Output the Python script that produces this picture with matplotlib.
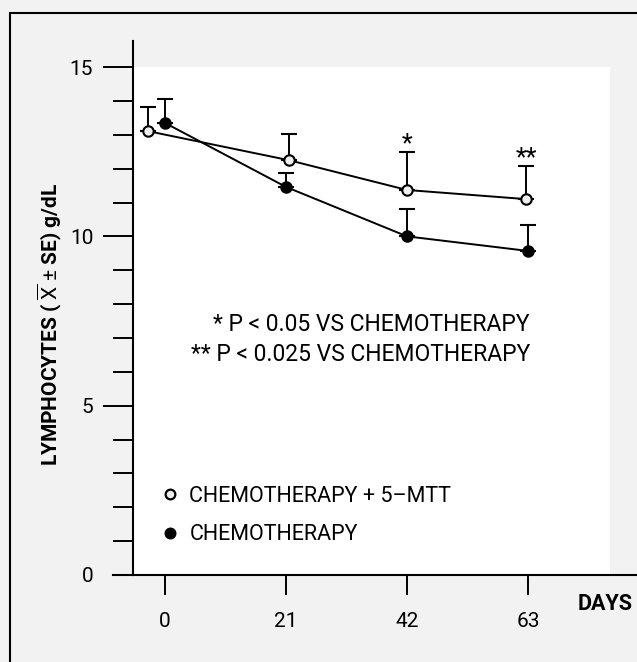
import matplotlib
matplotlib.use("Agg")
import matplotlib.pyplot as plt
from matplotlib.patches import Rectangle
from matplotlib.lines import Line2D
import numpy as np

# === DATA ===
days_mtt = [-3, 21.5, 42, 62.7]
lymph_mtt = [13.11, 12.25, 11.37, 11.10]
se_mtt = [0.71, 0.77, 1.12, 0.98]

days_chemo = [0, 21, 42, 63]
lymph_chemo = [13.35, 11.46, 10.00, 9.57]
se_chemo = [0.70, 0.41, 0.80, 0.76]

xtick_days = [0, 21, 42, 63]
ytick_major = [0, 5, 10, 15]
ytick_minor = [1, 2, 3, 4, 6, 7, 8, 9, 11, 12, 13, 14]

label_mtt = "CHEMOTHERAPY + 5\u2013MTT"
label_chemo = "CHEMOTHERAPY"
stars = ["*", "**"]
note1 = "* P < 0.05 VS CHEMOTHERAPY"
note2 = "** P < 0.025 VS CHEMOTHERAPY"

plt.rcParams['font.family'] = ['Roboto', 'DejaVu Sans']
plt.rcParams['mathtext.fontset'] = 'custom'
plt.rcParams['mathtext.rm'] = 'Roboto'

BG = "#f2f2f2"
fig = plt.figure(figsize=(6.37, 6.62), dpi=100, facecolor=BG)

# frame around the figure
fig.patches.append(Rectangle((10 / 637, -0.1), 1.2, (662 - 13) / 662 + 0.1,
                             transform=fig.transFigure, fill=False,
                             ec="black", lw=1.5, zorder=0))

ax = fig.add_axes([113 / 637, 87 / 662, 524 / 637, 534 / 662])
ax.set_facecolor("none")
ax.set_xlim(-9.02, 81.9)
ax.set_ylim(0, 15.77)

# white plotting area
ax.add_patch(Rectangle((-5.55, 0), 77.2 + 5.55, 15, color="white", zorder=0, lw=0))

for s in ["top", "right"]:
    ax.spines[s].set_visible(False)
ax.spines["left"].set_position(("data", -5.55))
ax.spines["left"].set_linewidth(1.5)
ax.spines["bottom"].set_linewidth(1.5)

ax.set_yticks(ytick_major)
ax.set_yticks(ytick_minor, minor=True)
ax.tick_params(axis="y", which="major", length=21.6, width=1.4, pad=7, labelsize=15)
ax.tick_params(axis="y", which="minor", length=14.4, width=1.4)
ax.yaxis.get_major_ticks()[0].tick1line.set_visible(False)

ax.set_xticks(xtick_days)
ax.tick_params(axis="x", which="major", length=14.4, width=1.4, pad=12, labelsize=15)

ms = 7.5
ax.errorbar(days_mtt, lymph_mtt, yerr=[np.zeros(len(se_mtt)), se_mtt],
            color="black", lw=1.4, elinewidth=1.4, capsize=6, capthick=1.4,
            marker="o", ms=ms, mfc="#eeeeee", mec="black", mew=1.5, zorder=3)
ax.errorbar(days_chemo, lymph_chemo, yerr=[np.zeros(len(se_chemo)), se_chemo],
            color="black", lw=1.4, elinewidth=1.4, capsize=6, capthick=1.4,
            marker="o", ms=ms, mfc="black", mec="black", mew=1.5, zorder=3)

# significance marks above the 5-MTT error bars
for i, st in zip([2, 3], stars):
    ax.text(days_mtt[i], lymph_mtt[i] + se_mtt[i] + 0.22, st,
            ha="center", va="center", fontsize=18)

ax.text(63.3, 7.41, note1, ha="right", va="center", fontsize=16.5)
ax.text(63.3, 6.52, note2, ha="right", va="center", fontsize=16.5)

handles = [Line2D([], [], ls="none", marker="o", ms=7, mfc="#eeeeee", mec="black", mew=1.6),
           Line2D([], [], ls="none", marker="o", ms=7, mfc="black", mec="black", mew=1.6)]
ax.legend(handles, [label_mtt, label_chemo], loc="upper left",
          bbox_to_anchor=(0.076, 0.183), frameon=False, fontsize=15.5,
          handlelength=0.8, handletextpad=0.5, labelspacing=0.8, borderaxespad=0)

ax.set_ylabel(r"LYMPHOCYTES ( $\overline{\mathrm{X}}$ $\pm$ SE) g/dL",
              fontsize=15, fontweight="bold")
ax.yaxis.set_label_coords(-0.094, 0.47)

fig.text(605 / 637, 1 - 604 / 662, "DAYS", ha="center", va="center",
         fontsize=15.5, fontweight="bold")

fig.savefig("out.png", dpi=100, facecolor=BG)
